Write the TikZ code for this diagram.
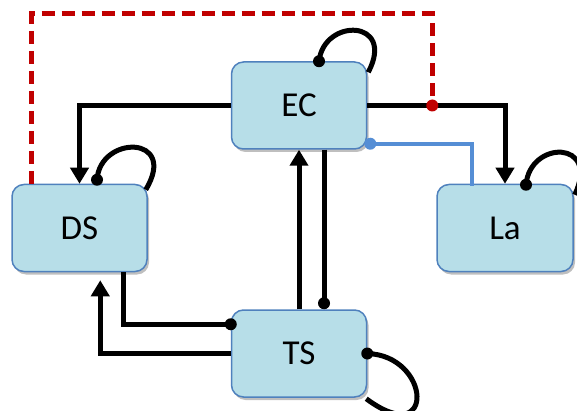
\documentclass[tikz,border=0pt]{standalone}
\usepackage{fontspec}
\setmainfont{Carlito}
\usetikzlibrary{arrows.meta,calc,shadows}
\definecolor{boxfill}{RGB}{183,222,232}
\definecolor{boxline}{RGB}{79,129,189}
\definecolor{dred}{RGB}{192,0,0}
\definecolor{lblue}{RGB}{85,142,213}
\begin{document}
\begin{tikzpicture}[x=1pt,y=-1pt,
  state/.style={draw=boxline, line width=1.5pt, fill=boxfill, rounded corners=12pt,
    minimum width=135pt, minimum height=87pt, inner sep=0pt,
    font=\fontsize{35}{40}\selectfont,
    drop shadow={shadow xshift=2pt,shadow yshift=-3pt,opacity=0.25,fill=black}},
  conn/.style={line width=5pt, draw=black},
  arr/.style={conn, -{Triangle[width=18pt,length=16pt]}},
  redline/.style={draw=dred, line width=5pt, dash pattern=on 13pt off 7pt},
  blueline/.style={draw=lblue, line width=4pt},
  loopline/.style={line width=5pt, draw=black}]
\useasboundingbox (0,0) rectangle (577,411);
% boxes
\node[state] (EC) at (299,105.5) {EC};
\node[state] (DS) at (79.5,228) {DS};
\node[state, minimum width=136pt] (La) at (505,228) {La};
\node[state] (TS) at (299,353.5) {TS};
% helper coordinates
\coordinate (rdot) at ($(EC.east)+(65,0)$);
\coordinate (rtop) at ($(rdot)+(0,-91.5)$);
\coordinate (bdot) at ($(EC.south east)+(3,-6)$);
\coordinate (ecdot) at ($(TS.north)+(25,-6)$);
\coordinate (tsdot) at ($(TS.north west)+(0,15)$);
% EC to DS and La
\draw[arr] (EC.west) -| (DS.north);
\draw[arr] (EC.east) -| (La.north);
% red dashed
\draw[redline] ($(DS.north west)+(20,0)$) |- (rtop) -- (rdot);
\fill[dred] (rdot) circle (6pt);
% blue
\draw[blueline] (bdot) -| ($(La.north west)+(36,2)$);
\fill[lblue] (bdot) circle (6pt);
% TS <-> EC
\draw[arr] (TS.north) -- (EC.south);
\draw[conn] ($(EC.south)+(25,0)$) -- (ecdot);
\fill (ecdot) circle (6pt);
% TS to DS
\draw[conn] (tsdot) -| ($(DS.south west)+(112,0)$);
\fill (tsdot) circle (6pt);
\draw[arr] (TS.west) -| ($(DS.south west)+(89,8)$);
% self loops
\draw[loopline] ($(EC.north)+(20,0)$) .. controls ($(EC.north)+(25,-44)$) and ($(EC.north east)+(29,-42)$) .. ($(EC.north east)+(1,11)$);
\fill ($(EC.north)+(20,0)$) circle (6pt);
\draw[loopline] ($(DS.north)+(17.5,-4)$) .. controls ($(DS.north)+(20.5,-49)$) and ($(DS.north east)+(31,-49)$) .. ($(DS.north east)+(-2,6)$);
\fill ($(DS.north)+(17.5,-4)$) circle (6pt);
\draw[loopline] ($(La.north)+(21,1)$) .. controls ($(La.north)+(25,-44)$) and ($(La.north east)+(27,-44)$) .. ($(La.north east)+(1,11)$);
\fill ($(La.north)+(21,1)$) circle (6pt);
\draw[loopline] (TS.east) .. controls ($(TS.east)+(64,2)$) and ($(TS.south east)+(69,53)$) .. ($(TS.south east)+(-1,1)$);
\fill (TS.east) circle (6pt);
\end{tikzpicture}
\end{document}
